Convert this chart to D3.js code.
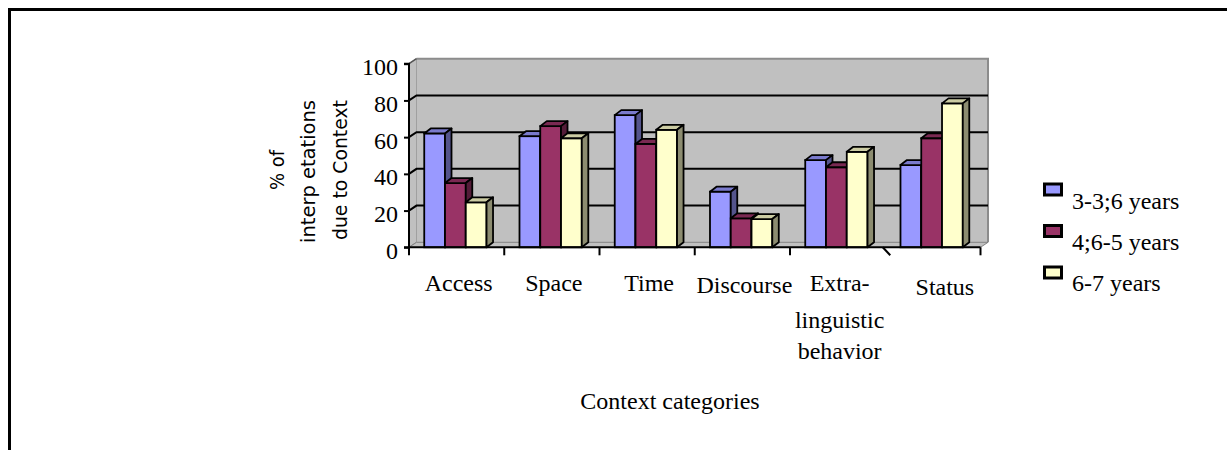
<!DOCTYPE html>
<html>
<head>
<meta charset="utf-8">
<script src="https://cdn.jsdelivr.net/npm/d3@7"></script>
<style>
  html, body { margin: 0; padding: 0; background: #fff; }
  svg { display: block; }
</style>
</head>
<body>
<svg id="chart" width="1227" height="450"></svg>
<script>
// ---- data ----
const categories = ["Access", "Space", "Time", "Discourse", "Extra-linguistic behavior", "Status"];
const categoryLabelLines = [["Access"], ["Space"], ["Time"], ["Discourse"], ["Extra-", "linguistic", "behavior"], ["Status"]];
const seriesNames = ["3-3;6 years", "4;6-5 years", "6-7 years"];
const series1 = [62, 60.5, 72, 30.3, 47.5, 44.8];
const series2 = [35, 66, 56.3, 15.8, 43.6, 59.4];
const series3 = [24.5, 59.4, 64, 15.4, 52, 78.4];
const yTicks = [0, 20, 40, 60, 80, 100];
const yTitleLines = ["% of", "interp etations", "due to Context"];
const xTitle = "Context categories";
const seriesColors = ["#9999FF", "#993366", "#FFFFCC"];

// ---- layout ----
const svg = d3.select("#chart");
const serif = "'Liberation Serif', 'Times New Roman', serif";
const allSeries = [series1, series2, series3];

// outer frame (top + left lines)
svg.append("path")
  .attr("d", "M9.5,450 V9.5 H1227")
  .attr("fill", "none").attr("stroke", "#000").attr("stroke-width", 3);

const x = d3.scaleBand().domain(categories).range([409, 980.5]).padding(0);
const y = d3.scaleLinear().domain([0, 100]).range([247.3, 63.7]);
const bw = x.bandwidth();
const wdx = 7.5, wdy = -5;   // wall depth
const bdx = 6.5, bdy = -5;   // bar depth
const x0 = x.range()[0], x1 = x.range()[1];
const yb = y(0), yt = y(100);

// side wall
svg.append("path")
  .attr("d", `M${x0},${yb} L${x0},${yt} L${x0 + wdx},${yt + wdy} L${x0 + wdx},${yb + wdy} Z`)
  .attr("fill", "#C0C0C0").attr("stroke", "#808080").attr("stroke-width", 1);
// back wall
svg.append("rect")
  .attr("x", x0 + wdx).attr("y", yt + wdy)
  .attr("width", x1 - x0).attr("height", yb - yt)
  .attr("fill", "#C0C0C0");
svg.append("path")
  .attr("d", `M${x0 + wdx},${yt + wdy} H${x1 + wdx} V${yb + wdy}`)
  .attr("fill", "none").attr("stroke", "#8c8c8c").attr("stroke-width", 2);
// floor
svg.append("path")
  .attr("d", `M${x0},${yb} L${x0 + wdx},${yb + wdy} L${x1 + wdx},${yb + wdy} L${x1},${yb} Z`)
  .attr("fill", "#C0C0C0").attr("stroke", "#808080").attr("stroke-width", 1);

// gridlines
const grid = svg.append("g");
yTicks.filter(v => v > 0 && v < 100).forEach(v => {
  grid.append("path")
    .attr("d", `M${x0},${y(v)} L${x0 + wdx},${y(v) + wdy} H${x1 + wdx}`)
    .attr("fill", "none").attr("stroke", "#000").attr("stroke-width", 2);
});
// top diagonal of side wall
svg.append("path")
  .attr("d", `M${x0},${yt} L${x0 + wdx},${yt + wdy}`)
  .attr("stroke", "#555").attr("stroke-width", 1.5);

// bars
const barW = bw * 0.218;
const groupOff = bw * 0.16;
const shade = (c, k) => { const r = d3.rgb(c); return d3.rgb(r.r * k, r.g * k, r.b * k).formatHex(); };
const barsG = svg.append("g");
categories.forEach((cat, i) => {
  allSeries.forEach((s, j) => {
    const v = s[i];
    const bx = x(cat) + groupOff + j * barW;
    const ty = y(v);
    const g = barsG.append("g");
    const col = seriesColors[j];
    g.append("rect").attr("x", bx).attr("y", ty).attr("width", barW).attr("height", yb - ty)
      .attr("fill", col).attr("stroke", "#000").attr("stroke-width", 1.8);
    g.append("path")
      .attr("d", `M${bx},${ty} L${bx + bdx},${ty + bdy} L${bx + barW + bdx},${ty + bdy} L${bx + barW},${ty} Z`)
      .attr("fill", shade(col, 0.8)).attr("stroke", "#000").attr("stroke-width", 1.8).attr("stroke-linejoin", "round");
    g.append("path")
      .attr("d", `M${bx + barW},${ty} L${bx + barW + bdx},${ty + bdy} L${bx + barW + bdx},${yb + bdy} L${bx + barW},${yb} Z`)
      .attr("fill", shade(col, 0.55)).attr("stroke", "#000").attr("stroke-width", 1.8).attr("stroke-linejoin", "round");
  });
});

// y axis
const yAxis = svg.append("g")
  .attr("transform", `translate(${x0},0)`)
  .call(d3.axisLeft(y).tickValues(yTicks).tickSize(5).tickPadding(6).tickFormat(d3.format("d")));
yAxis.select(".domain").attr("stroke", "#000").attr("stroke-width", 2).attr("d", `M-5,${yt}H0V${yb}H-5`);
yAxis.selectAll(".tick line").attr("stroke", "#000").attr("stroke-width", 2);
yAxis.selectAll(".tick text")
  .attr("font-family", serif).attr("font-size", 24).attr("fill", "#000").attr("dy", "0.46em");

// x axis line + boundary ticks
svg.append("line").attr("x1", x0).attr("x2", x1).attr("y1", yb).attr("y2", yb)
  .attr("stroke", "#000").attr("stroke-width", 2);
const bounds = categories.map(c => x(c)).concat([x1]);
bounds.forEach((bx, i) => {
  const slant = (i === 5) ? 5 : 0;
  svg.append("line")
    .attr("x1", bx - slant / 2).attr("y1", yb).attr("x2", bx + slant).attr("y2", yb + 8)
    .attr("stroke", "#000").attr("stroke-width", 2);
});

// category labels
const lineOffsets = [0, 36.5, 67.5];
categories.forEach((cat, i) => {
  const t = svg.append("text")
    .attr("font-family", serif).attr("font-size", 24).attr("fill", "#000")
    .attr("text-anchor", "middle");
  const cx = x(cat) + bw / 2 + (i === 5 ? 12 : 2);
  const by = 291 + (i === 5 ? 4 : (i === 3 ? 2 : 0));
  categoryLabelLines[i].forEach((ln, k) => {
    t.append("tspan").attr("x", cx).attr("y", by + lineOffsets[k]).text(ln);
  });
});

// x title
svg.append("text")
  .attr("x", 670).attr("y", 408.5)
  .attr("text-anchor", "middle")
  .attr("font-family", serif).attr("font-size", 24).attr("fill", "#000")
  .text(xTitle);

// y title (rotated, 3 lines)
const yTitleBaselines = [283.5, 315, 347];
const yTitleLengths = [40, 143, 140];
const yTitleCenters = [170, 171.5, 170];
yTitleLines.forEach((ln, k) => {
  svg.append("text")
    .attr("transform", `translate(${yTitleBaselines[k]},${yTitleCenters[k]}) rotate(-90)`)
    .attr("text-anchor", "middle")
    .attr("font-family", "'DejaVu Sans', sans-serif").attr("font-size", 20).attr("fill", "#000")
    .attr("textLength", yTitleLengths[k]).attr("lengthAdjust", "spacingAndGlyphs")
    .text(ln);
});

// legend
const legend = svg.append("g");
seriesNames.forEach((name, j) => {
  legend.append("rect")
    .attr("x", 1044.5).attr("y", 184 + j * 41.5)
    .attr("width", 17).attr("height", 11)
    .attr("fill", seriesColors[j]).attr("stroke", "#000").attr("stroke-width", 3);
  legend.append("text")
    .attr("x", 1072).attr("y", 208.5 + j * 41)
    .attr("font-family", serif).attr("font-size", 24).attr("fill", "#000")
    .text(name);
});
</script>
</body>
</html>
